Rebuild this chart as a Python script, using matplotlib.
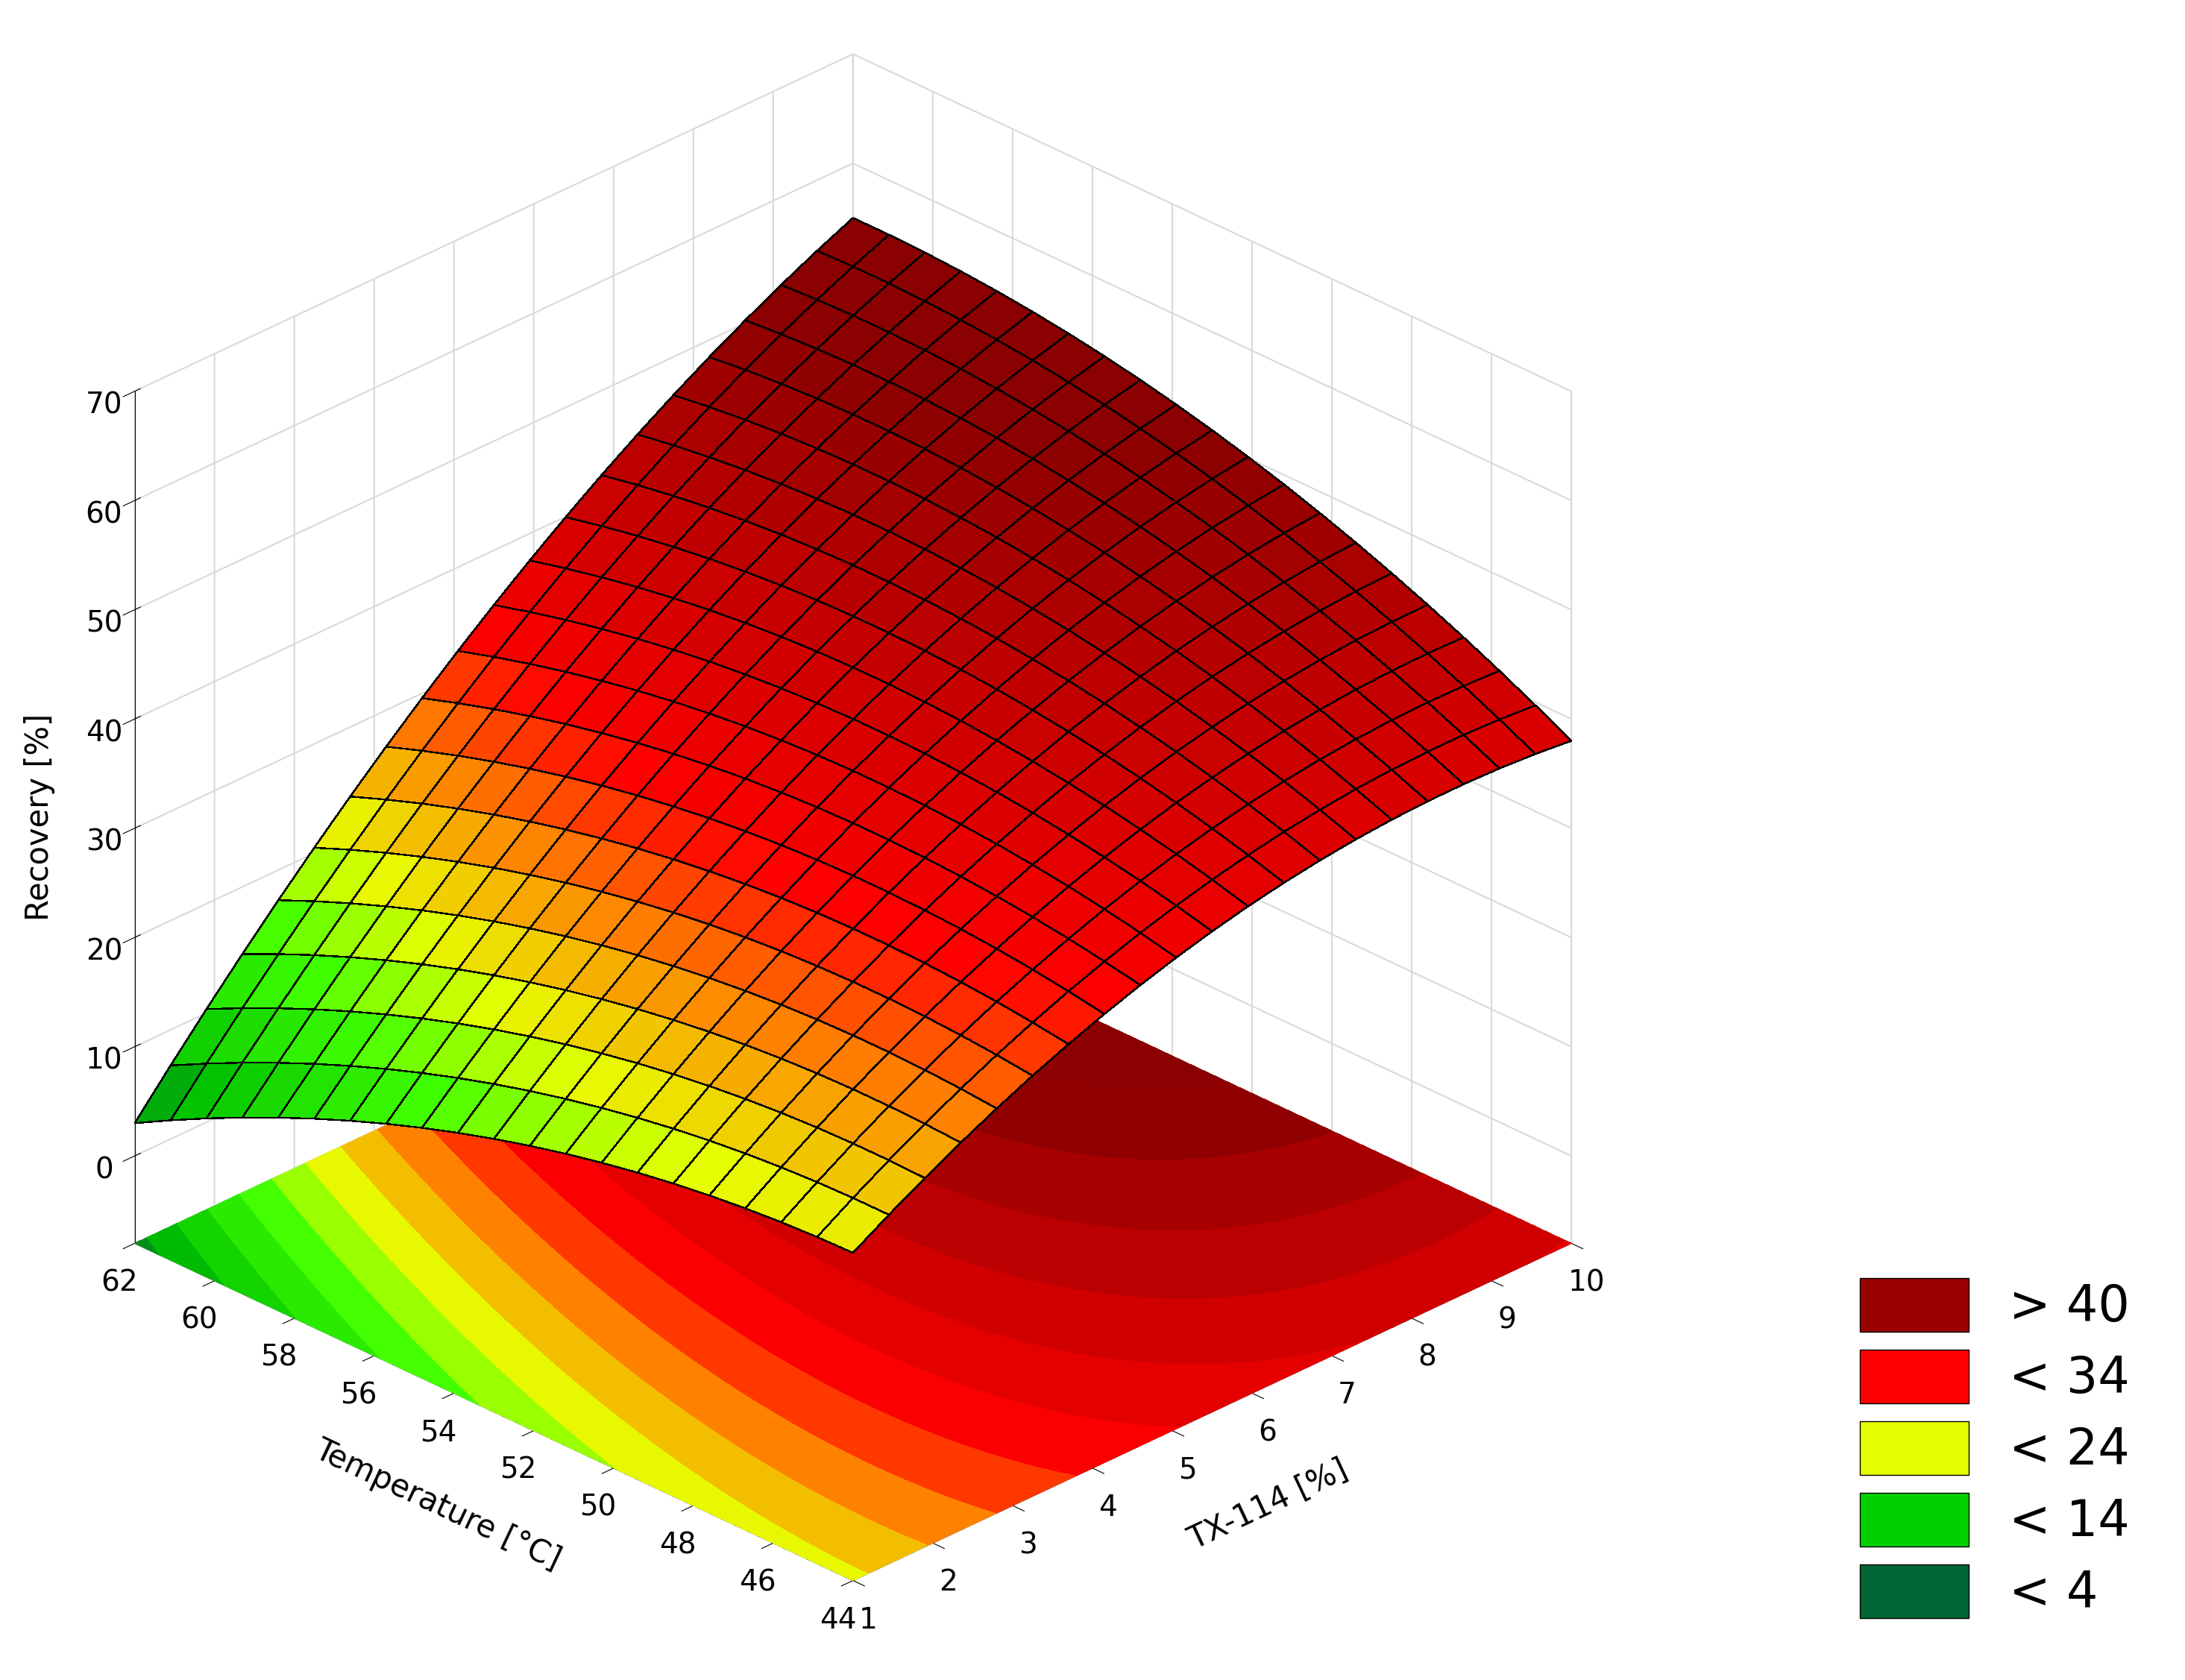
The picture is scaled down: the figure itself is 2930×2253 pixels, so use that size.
import numpy as np
import matplotlib
matplotlib.use("Agg")
import matplotlib.pyplot as plt
from matplotlib.colors import LinearSegmentedColormap
from matplotlib.patches import Patch

# Fitted response-surface coefficients (coded units)
coef_a, coef_b, coef_c, coef_d, coef_e, coef_f = 40.0, 17.0, -0.5, -6.0, -4.5, 9.0
tx_values = np.linspace(1, 10, 21)
temp_values = np.linspace(44, 62, 21)
tx_ticks = [1, 2, 3, 4, 5, 6, 7, 8, 9, 10]
temp_ticks = [44, 46, 48, 50, 52, 54, 56, 58, 60, 62]
z_ticks = [0, 10, 20, 30, 40, 50, 60, 70]
legend_labels = ["> 40", "< 34", "< 24", "< 14", "< 4"]
legend_colors = ["#9b0000", "#ff0000", "#e6ff00", "#00d000", "#006633"]

X, T = np.meshgrid(tx_values, temp_values)
U = (X - 5.5) / 4.5
V = (T - 53) / 9
Z = coef_a + coef_b*U + coef_c*V + coef_d*U**2 + coef_e*V**2 + coef_f*U*V

cmap = LinearSegmentedColormap.from_list("stat", [
    (0.0, "#006633"), (0.12, "#00c000"), (0.3, "#40ff00"), (0.42, "#e6ff00"),
    (0.55, "#ff8000"), (0.66, "#ff0000"), (0.8, "#d00000"), (1.0, "#8b0000")])
vmin, vmax = 0, 50
floor = -8

fig = plt.figure(figsize=(29.3, 22.53), dpi=100)
ax = fig.add_axes([-0.06, 0.0, 0.88, 1.0], projection="3d")
ax.view_init(elev=28, azim=-135)
ax.set_proj_type("ortho")

colors = cmap(np.clip((Z - vmin) / (vmax - vmin), 0, 1))
ax.plot_surface(X, T, Z, facecolors=colors, edgecolor="black", linewidth=1.0,
                shade=False, rstride=1, cstride=1, antialiased=False)
Xf, Tf = np.meshgrid(np.linspace(1, 10, 200), np.linspace(44, 62, 200))
Uf = (Xf - 5.5) / 4.5; Vf = (Tf - 53) / 9
Zf = coef_a + coef_b*Uf + coef_c*Vf + coef_d*Uf**2 + coef_e*Vf**2 + coef_f*Uf*Vf
ax.contourf(Xf, Tf, Zf, zdir="z", offset=floor, levels=np.linspace(-5, 60, 22),
            cmap=cmap, vmin=vmin, vmax=vmax)

ax.set_xlim(1, 10); ax.set_ylim(44, 62); ax.set_zlim(floor, 70)
ax.set_xticks(tx_ticks); ax.set_yticks(temp_ticks); ax.set_zticks(z_ticks)
ax.tick_params(labelsize=28, pad=10)
ax.set_xlabel("TX-114 [%]", fontsize=30, labelpad=45)
ax.set_ylabel("Temperature [°C]", fontsize=30, labelpad=45)
ax.set_zlabel("Recovery [%]", fontsize=30, labelpad=35)
for a in (ax.xaxis, ax.yaxis, ax.zaxis):
    a.set_pane_color((1, 1, 1, 1))
    a._axinfo["grid"]["color"] = (0.85, 0.85, 0.85, 1)
    a._axinfo["grid"]["linewidth"] = 1.5
ax.set_box_aspect((1, 1, 0.95))

handles = [Patch(facecolor=c, edgecolor="black", label=l) for c, l in zip(legend_colors, legend_labels)]
fig.legend(handles=handles, loc="lower right", bbox_to_anchor=(0.995, 0.01), fontsize=48,
           frameon=False, handlelength=2.2, handleheight=1.3, labelspacing=0.35)
fig.savefig("out.png", dpi=100, facecolor="white")
